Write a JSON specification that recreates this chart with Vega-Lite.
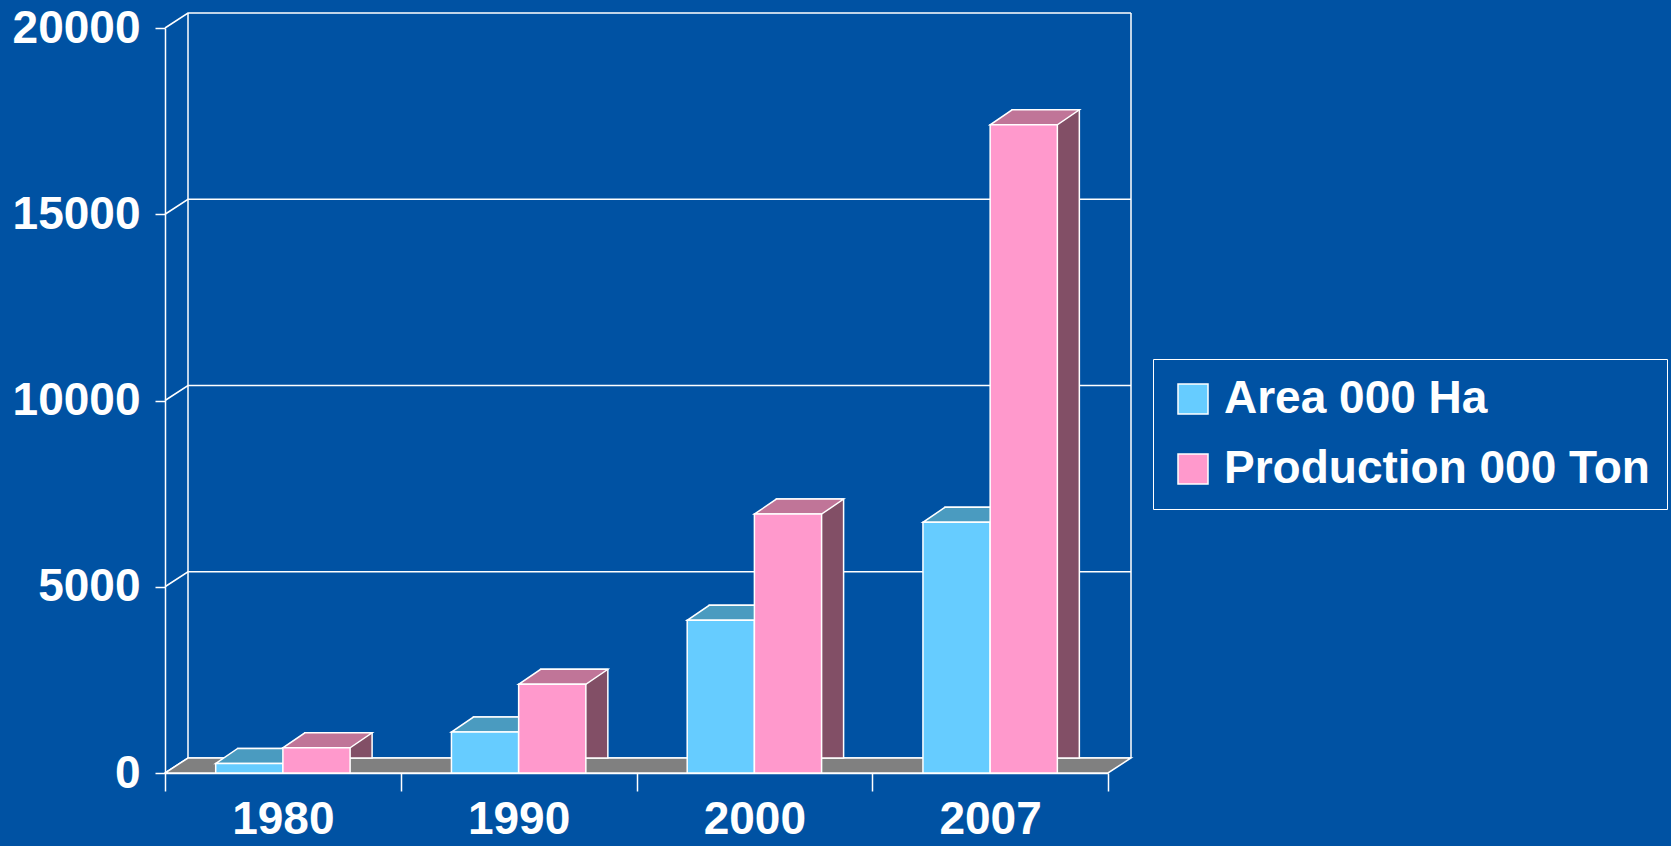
{
  "$schema": "https://vega.github.io/schema/vega-lite/v6.json",
  "width": 943,
  "height": 745,
  "autosize": {"type": "none"},
  "padding": {"left": 165, "top": 28, "right": 563, "bottom": 73},
  "background": "#0052A3",
  "config": {
    "view": {"stroke": null},
    "font": "Liberation Sans",
    "axis": {
      "domainColor": "white", "domainWidth": 1.5,
      "tickColor": "white", "tickWidth": 1.5,
      "labelColor": "white", "labelFont": "Liberation Sans", "labelFontWeight": "bold",
      "grid": false, "title": null
    },
    "axisY": {"tickSize": 10, "labelFontSize": 46, "labelPadding": 15},
    "axisX": {"tickSize": 18, "labelFontSize": 46, "labelPadding": 6, "labelAngle": 0, "tickBand": "extent"},
    "legend": {
      "orient": "none", "legendX": 988, "legendY": 331,
      "strokeColor": "white", "padding": 17,
      "labelFont": "Liberation Sans", "labelFontSize": 46, "labelFontWeight": "bold", "labelColor": "white",
      "labelLimit": 1000, "labelOffset": 8,
      "symbolType": "square", "symbolSize": 900, "symbolStrokeColor": "white", "symbolStrokeWidth": 1.5,
      "symbolOpacity": 1, "rowPadding": 24, "title": null
    }
  },
  "datasets": {
    "bars": [
      {"year": "1980", "series": "Area 000 Ha", "value": 255},
      {"year": "1980", "series": "Production 000 Ton", "value": 675},
      {"year": "1990", "series": "Area 000 Ha", "value": 1100},
      {"year": "1990", "series": "Production 000 Ton", "value": 2380},
      {"year": "2000", "series": "Area 000 Ha", "value": 4100},
      {"year": "2000", "series": "Production 000 Ton", "value": 6950},
      {"year": "2007", "series": "Area 000 Ha", "value": 6730},
      {"year": "2007", "series": "Production 000 Ton", "value": 17400}
    ],
    "grid": [{"v": 0}, {"v": 5000}, {"v": 10000}, {"v": 15000}, {"v": 20000}],
    "top": [{"v": 20000}],
    "floor": [{"v": 0}]
  },
  "layer": [
    {
      "data": {"name": "grid"},
      "mark": {"type": "point", "shape": "M -0.943 0 L -0.897 -0.03 L 0.989 -0.03", "size": 1000000, "filled": false, "color": "white", "stroke": "white", "strokeWidth": 1.5, "opacity": 1},
      "encoding": {"y": {"field": "v", "type": "quantitative", "scale": {"domain": [0, 20000], "nice": false}}}
    },
    {
      "data": {"name": "top"},
      "mark": {"type": "point", "shape": "M -0.897 -0.03 L -0.897 1.46 M 0.989 -0.03 L 0.989 1.46", "size": 1000000, "filled": false, "color": "white", "stroke": "white", "strokeWidth": 1.5, "opacity": 1},
      "encoding": {"y": {"field": "v", "type": "quantitative"}}
    },
    {
      "data": {"name": "floor"},
      "mark": {"type": "point", "shape": "M -0.943 0 L 0.943 0 L 0.989 -0.03 L -0.897 -0.03 Z", "size": 1000000, "filled": true, "color": "#808080", "stroke": "white", "strokeWidth": 1.5, "opacity": 1},
      "encoding": {"y": {"field": "v", "type": "quantitative"}}
    },
    {
      "data": {"name": "bars"},
      "mark": {"type": "bar", "yOffset": -15, "y2Offset": -15, "stroke": "white", "strokeWidth": 1.5},
      "encoding": {
        "x": {"field": "year", "type": "nominal", "scale": {"paddingInner": 0, "paddingOuter": 0}},
        "xOffset": {"field": "series", "type": "nominal", "scale": {"range": [72.7, 207.1], "paddingInner": 0, "paddingOuter": 0}},
        "y": {"field": "value", "type": "quantitative"},
        "color": {"condition": {"test": "datum.series === 'Area 000 Ha'", "value": "#3F7FA0"}, "value": "#824F66"}
      }
    },
    {
      "data": {"name": "bars"},
      "mark": {"type": "point", "shape": "M -0.672 0 L 0.672 0 L 1.112 -0.3 L -0.232 -0.3 Z", "size": 10000, "filled": true, "stroke": "white", "strokeWidth": 1.5, "opacity": 1},
      "encoding": {
        "x": {"field": "year", "type": "nominal"},
        "xOffset": {"field": "series", "type": "nominal", "scale": {"type": "band", "range": [50.7, 185.1], "paddingInner": 0, "paddingOuter": 0}},
        "y": {"field": "value", "type": "quantitative"},
        "color": {"condition": {"test": "datum.series === 'Area 000 Ha'", "value": "#4A9BC0"}, "value": "#C07598"}
      }
    },
    {
      "data": {"name": "bars"},
      "mark": {"type": "bar", "stroke": "white", "strokeWidth": 1.5, "opacity": 1},
      "encoding": {
        "x": {"field": "year", "type": "nominal", "axis": {}},
        "xOffset": {"field": "series", "type": "nominal", "scale": {"range": [50.7, 185.1], "paddingInner": 0, "paddingOuter": 0}},
        "y": {"field": "value", "type": "quantitative", "axis": {"values": [0, 5000, 10000, 15000, 20000], "format": "d"}},
        "color": {"field": "series", "type": "nominal", "scale": {"domain": ["Area 000 Ha", "Production 000 Ton"], "range": ["#66CCFF", "#FF99CC"]}}
      }
    }
  ],
  "resolve": {"scale": {"xOffset": "independent"}}
}
